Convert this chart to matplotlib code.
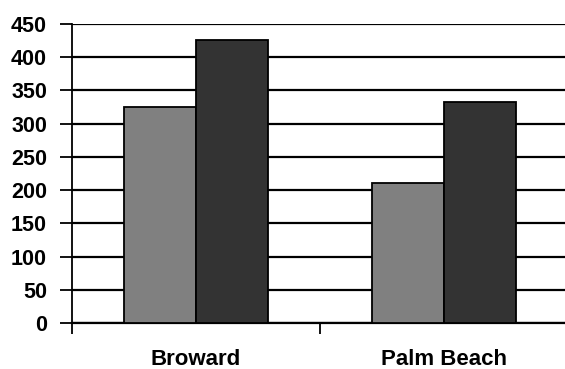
import matplotlib
matplotlib.use("Agg")
import matplotlib.pyplot as plt
import numpy as np

categories = ["Broward", "Palm Beach"]
series_a = [325, 210]
series_b = [426, 333]
y_ticks = [0, 50, 100, 150, 200, 250, 300, 350, 400, 450]

plt.rcParams["font.family"] = ["Liberation Sans", "DejaVu Sans"]
plt.rcParams["font.weight"] = "bold"

fig = plt.figure(figsize=(5.65, 3.69), dpi=100)
ax = fig.add_axes([72 / 565, 46 / 369, 496 / 565, 299 / 369])

x = np.arange(len(categories))
w = 0.29
ax.bar(x - w / 2, series_a, width=w, color="#808080", edgecolor="black", linewidth=1.3, zorder=3)
ax.bar(x + w / 2, series_b, width=w, color="#333333", edgecolor="black", linewidth=1.3, zorder=3)

ax.set_xlim(-0.5, len(categories) - 0.5)
ax.set_ylim(0, 450)
ax.set_yticks(y_ticks)
ax.set_yticklabels([str(v) for v in y_ticks], fontsize=15.5, fontweight="bold")
ax.yaxis.grid(True, color="black", linewidth=1.6, zorder=0)
ax.set_axisbelow(True)

# category boundaries carry the tick marks, names sit at the centres
ax.set_xticks(np.arange(len(categories) + 1) - 0.5)
ax.set_xticklabels([])
ax.set_xticks(x, minor=True)
ax.set_xticklabels(categories, minor=True, fontsize=16, fontweight="bold")
ax.tick_params(axis="x", which="major", length=8, width=1.3, direction="out")
ax.tick_params(axis="x", which="minor", length=0, pad=19)
ax.tick_params(axis="y", length=9, width=1.3, pad=9)

for side in ["top", "right"]:
    ax.spines[side].set_visible(False)
ax.spines["left"].set_linewidth(1.3)
ax.spines["bottom"].set_linewidth(1.6)

fig.savefig("out.png", dpi=100)
